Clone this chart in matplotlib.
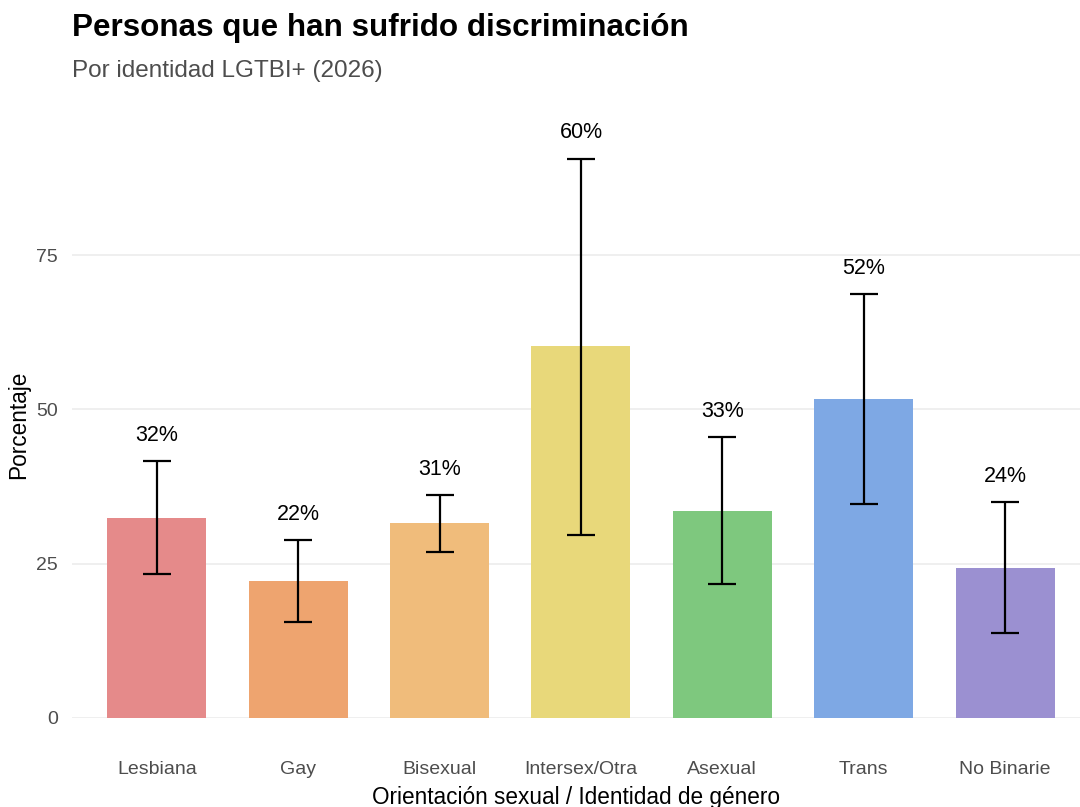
import numpy as np
import matplotlib.pyplot as plt

plt.rcParams['font.family'] = ['Liberation Sans', 'DejaVu Sans']

categories = ['Lesbiana', 'Gay', 'Bisexual', 'Intersex/Otra', 'Asexual', 'Trans', 'No Binarie']
values = [32.4, 22.2, 31.6, 60.2, 33.5, 51.7, 24.3]
err_low = [23.3, 15.6, 26.9, 29.6, 21.7, 34.7, 13.8]
err_high = [41.6, 28.8, 36.1, 90.6, 45.5, 68.7, 35.0]
labels = ['32%', '22%', '31%', '60%', '33%', '52%', '24%']
colors = ['#E58A8A', '#EEA46F', '#F0BC7B', '#E8D87A', '#7EC87E', '#7EA8E4', '#9B90D1']

fig = plt.figure(figsize=(10.8, 8.07), dpi=100)
ax = fig.add_axes([72 / 1080, 1 - 718 / 807, 1 - 72 / 1080, (718 - 110) / 807])

x = np.arange(1, len(categories) + 1)
ax.bar(x, values, width=0.7, color=colors, zorder=2)

vals = np.array(values)
yerr = [vals - np.array(err_low), np.array(err_high) - vals]
ax.errorbar(x, vals, yerr=yerr, fmt='none', ecolor='black', elinewidth=1.6,
            capsize=10, capthick=1.6, zorder=3)

for xi, hi, lab in zip(x, err_high, labels):
    ax.annotate(lab, (xi, hi), xytext=(0, 11), textcoords='offset points',
                ha='center', va='bottom', fontsize=15.5, color='black')

ax.set_xlim(0.4, 7.53)
ax.set_ylim(0, 98.5)
ax.set_yticks([0, 25, 50, 75])
ax.set_xticks(x)
ax.set_xticklabels(categories)
ax.tick_params(axis='both', length=0, labelsize=14, labelcolor='#4D4D4D')
ax.tick_params(axis='x', pad=31)
ax.tick_params(axis='y', pad=10)
ax.grid(axis='y', color='#EBEBEB', linewidth=1.1, zorder=0)
for s in ax.spines.values():
    s.set_visible(False)

ax.set_xlabel('Orientación sexual / Identidad de género', fontsize=16.3)
ax.xaxis.set_label_coords(0.5, -0.112)
ax.set_ylabel('Porcentaje', fontsize=16.3)
ax.yaxis.set_label_coords(-0.042, 0.483)

fig.text(72 / 1080, 1 - 28 / 807, 'Personas que han sufrido discriminación',
         fontsize=22.6, fontweight='bold', va='center', ha='left')
fig.text(72 / 1080, 1 - 71 / 807, 'Por identidad LGTBI+ (2026)',
         fontsize=17.5, color='#4D4D4D', va='center', ha='left')

fig.savefig('out.png', dpi=100)
